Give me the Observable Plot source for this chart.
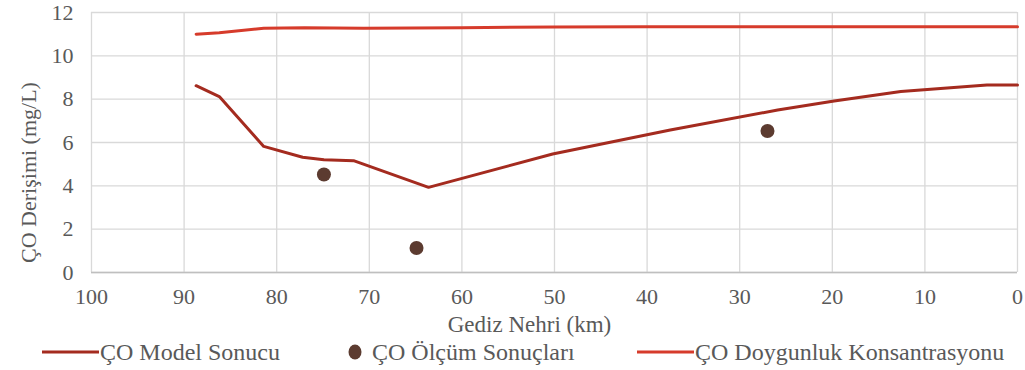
<!DOCTYPE html>
<html>
<head>
<meta charset="utf-8">
<script src="https://cdn.jsdelivr.net/npm/d3@7"></script>
<script src="https://cdn.jsdelivr.net/npm/@observablehq/plot@0.6"></script>
<style>
  html, body { margin: 0; padding: 0; background: #fff; }
  body { width: 1025px; height: 370px; overflow: hidden; font-family: "Liberation Serif", "Times New Roman", serif; }
  #wrap { position: relative; width: 1025px; height: 370px; }
  #legend { position: absolute; left: 0; top: 338px; width: 1025px; height: 28px; font-size: 24px; color: #595959; }
  .sw { position: absolute; top: 0; }
  .lbl { position: absolute; top: 0px; white-space: nowrap; line-height: 28px; }
</style>
</head>
<body>
<div id="wrap">
  <div id="chart"></div>
  <div id="legend"></div>
</div>
<script>
// Distance along Gediz River (km) and concentrations (mg/L)
const modelKm   = [88.7, 86.2, 81.4, 77.2, 74.9, 71.7, 63.6, 50.2, 37.5, 25.9, 19.8, 12.6, 3.3, 0];
const modelVal  = [8.62, 8.12, 5.82, 5.32, 5.2, 5.16, 3.93, 5.47, 6.58, 7.5, 7.92, 8.35, 8.65, 8.65];
const measKm    = [74.9, 64.9, 27.0];
const measVal   = [4.52, 1.13, 6.53];
const satKm     = [88.7, 86.2, 81.4, 77.0, 70.6, 60.0, 50.0, 40.0, 30.0, 20.0, 10.0, 0];
const satVal    = [11.0, 11.07, 11.27, 11.3, 11.27, 11.3, 11.33, 11.34, 11.34, 11.34, 11.34, 11.34];
const xTicks    = [100, 90, 80, 70, 60, 50, 40, 30, 20, 10, 0];
const yTicks    = [0, 2, 4, 6, 8, 10, 12];
const xTitle = "Gediz Nehri (km)";
const yTitle = "ÇO Derişimi (mg/L)";
const seriesNames = ["ÇO Model Sonucu", "ÇO Ölçüm Sonuçları", "ÇO Doygunluk Konsantrasyonu"];
const colModel = "#a42b1f", colMeas = "#5c3b30", colSat = "#d63b2b";
const fontStack = "Liberation Serif, Times New Roman, serif";

const model = modelKm.map((k, i) => ({km: k, v: modelVal[i]}));
const meas  = measKm.map((k, i) => ({km: k, v: measVal[i]}));
const sat   = satKm.map((k, i) => ({km: k, v: satVal[i]}));

const chart = Plot.plot({
  width: 1025,
  height: 338,
  marginLeft: 91,
  marginRight: 8,
  marginTop: 12,
  marginBottom: 66,
  style: { fontFamily: fontStack, fontSize: "22px", color: "#595959", background: "#fff", overflow: "visible" },
  x: { domain: [100, 0], ticks: xTicks, label: null },
  y: { domain: [0, 12], ticks: yTicks, label: null },
  marks: [
    Plot.gridX(xTicks, { stroke: "#d9d9d9", strokeOpacity: 1, strokeWidth: 1.3 }),
    Plot.gridY(yTicks, { stroke: "#d9d9d9", strokeOpacity: 1, strokeWidth: 1.3 }),
    Plot.ruleY([0], { stroke: "#bfbfbf", strokeWidth: 1.3 }),
    Plot.axisX(xTicks, { tickSize: 0, tickPadding: 16, fontSize: 22, fill: "#595959", label: null }),
    Plot.axisY(yTicks, { tickSize: 0, tickPadding: 18, fontSize: 22, fill: "#595959", label: null }),
    Plot.text([xTitle], { frameAnchor: "bottom", textAnchor: "middle", dx: -25, dy: 52, fontSize: 23, fill: "#595959", lineAnchor: "middle" }),
    Plot.text([yTitle], { frameAnchor: "left", textAnchor: "middle", rotate: -90, dx: -63, dy: 30, fontSize: 22, fill: "#595959", lineAnchor: "middle" }),
    Plot.line(sat, { x: "km", y: "v", stroke: colSat, strokeWidth: 3 }),
    Plot.line(model, { x: "km", y: "v", stroke: colModel, strokeWidth: 3 }),
    Plot.dot(meas, { x: "km", y: "v", r: 7, fill: colMeas, stroke: "none" })
  ]
});
document.getElementById("chart").appendChild(chart);

// Legend
const legend = document.getElementById("legend");
const items = [
  { sw: 42, text: 100, type: "line", color: colModel, label: seriesNames[0] },
  { sw: 355, text: 372, type: "dot", color: colMeas, label: seriesNames[1] },
  { sw: 637, text: 695, type: "line", color: colSat, label: seriesNames[2] }
];
for (const it of items) {
  const s = document.createElement("div");
  s.className = "sw";
  if (it.type === "line") {
    s.style.left = it.sw + "px";
    s.innerHTML = `<svg width="58" height="28"><line x1="0" y1="14" x2="57" y2="14" stroke="${it.color}" stroke-width="3"/></svg>`;
  } else {
    s.style.left = (it.sw - 8) + "px";
    s.innerHTML = `<svg width="16" height="28"><ellipse cx="8" cy="14" rx="6.5" ry="7.5" fill="${it.color}"/></svg>`;
  }
  legend.appendChild(s);
  const t = document.createElement("div");
  t.className = "lbl";
  t.style.left = it.text + "px";
  t.textContent = it.label;
  legend.appendChild(t);
}
</script>
</body>
</html>
